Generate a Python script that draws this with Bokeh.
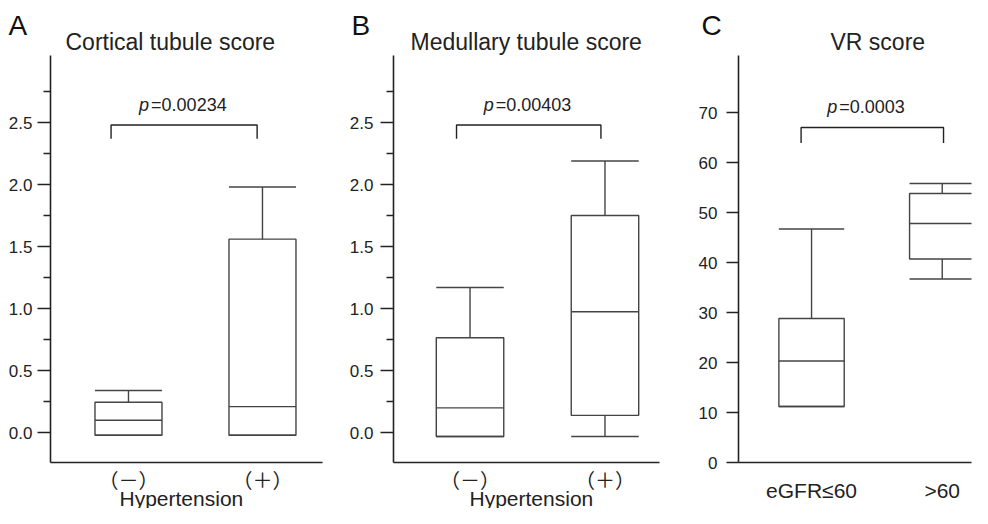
from bokeh.plotting import figure
from bokeh.layouts import row
from bokeh.models import ColumnDataSource, FixedTicker, Range1d, Label, Title
from bokeh.embed import file_html
from bokeh.resources import INLINE

# ---------------- data ----------------
hyp_groups = ["（－）", "（＋）"]
egfr_groups = ["eGFR≤60", ">60"]
group_pos = [1, 2]

# Cortical tubule score (A)
cort_lower = [-0.02, -0.02]
cort_q1 = [-0.02, -0.02]
cort_median = [0.10, 0.21]
cort_q3 = [0.245, 1.56]
cort_upper = [0.34, 1.98]
cort_p = "0.00234"
cort_bracket_x = [0.87, 1.96]
cort_bracket_y = [2.37, 2.48]

# Medullary tubule score (B)
med_lower = [-0.03, -0.03]
med_q1 = [-0.03, 0.14]
med_median = [0.20, 0.975]
med_q3 = [0.765, 1.75]
med_upper = [1.17, 2.19]
med_p = "0.00403"
med_bracket_x = [0.90, 1.97]
med_bracket_y = [2.37, 2.48]

# VR score (C)
vr_lower = [11.2, 36.7]
vr_q1 = [11.2, 40.7]
vr_median = [20.3, 47.8]
vr_q3 = [28.8, 53.8]
vr_upper = [46.7, 55.8]
vr_p = "0.0003"
vr_bracket_x = [0.92, 2.01]
vr_bracket_y = [63.9, 67.0]

score_ticks = [0.0, 0.5, 1.0, 1.5, 2.0, 2.5]
score_minor = [0.25, 0.75, 1.25, 1.75, 2.25, 2.75]
vr_ticks = [0, 10, 20, 30, 40, 50, 60, 70]

# ---------------- style ----------------
LC = "#444444"
AC = "#222222"
LW = 1.4
LATIN = "Liberation Sans"
CJK = "Noto Sans CJK JP"
H = 508


def make_fig(width, lb, rb, tb, bb, xr, yr):
    p = figure(width=width, height=H, x_range=Range1d(*xr), y_range=Range1d(*yr),
               output_backend="svg", toolbar_location=None, title=None,
               min_border_left=lb, min_border_right=rb,
               min_border_top=tb, min_border_bottom=bb)
    p.outline_line_color = None
    p.grid.visible = False
    p.background_fill_color = "white"
    p.border_fill_color = "white"
    for ax in (p.xaxis[0], p.yaxis[0]):
        ax.axis_line_color = AC
        ax.axis_line_width = 1.6
        ax.major_label_text_color = AC
    xa = p.xaxis[0]
    xa.ticker = FixedTicker(ticks=group_pos)
    xa.major_tick_line_color = None
    xa.minor_tick_line_color = None
    xa.major_tick_out = 0
    xa.major_tick_in = 0
    ya = p.yaxis[0]
    ya.major_tick_in = 0
    ya.minor_tick_in = 0
    ya.major_tick_line_color = AC
    ya.minor_tick_line_color = AC
    ya.major_tick_line_width = 1.4
    ya.minor_tick_line_width = 1.4
    ya.major_label_text_font = LATIN
    ya.major_label_text_font_size = "17px"
    return p


def draw_boxes(p, lower, q1, med, q3, upper, w=0.5):
    src = ColumnDataSource(dict(
        x=group_pos,
        left=[g - w / 2 for g in group_pos],
        right=[g + w / 2 for g in group_pos],
        lower=lower, q1=q1, med=med, q3=q3, upper=upper))
    kw = dict(source=src, line_color=LC, line_width=LW)
    p.segment(x0="x", x1="x", y0="q3", y1="upper", **kw)
    p.segment(x0="x", x1="x", y0="lower", y1="q1", **kw)
    p.segment(x0="left", x1="right", y0="upper", y1="upper", **kw)
    p.segment(x0="left", x1="right", y0="lower", y1="lower", **kw)
    p.quad(left="left", right="right", bottom="q1", top="q3", fill_color=None, **kw)
    p.segment(x0="left", x1="right", y0="med", y1="med", **kw)


def draw_bracket(p, bx, by, pval, ptext_y):
    p.line(x=[bx[0], bx[0], bx[1], bx[1]], y=[by[0], by[1], by[1], by[0]],
           line_color=AC, line_width=LW)
    xc = (bx[0] + bx[1]) / 2
    p.add_layout(Label(x=xc, y=ptext_y, x_offset=-35, text="p", text_align="right",
                       text_baseline="middle", text_font=LATIN, text_font_style="italic",
                       text_font_size="18px", text_color=AC))
    p.add_layout(Label(x=xc, y=ptext_y, x_offset=-33, text="=" + pval, text_align="left",
                       text_baseline="middle", text_font=LATIN,
                       text_font_size="18px", text_color=AC))


def add_titles(p, title, t_off, t_standoff, letter, l_off, l_standoff):
    p.add_layout(Title(text=title, align="left", offset=t_off, standoff=t_standoff,
                       text_font=LATIN, text_font_size="23px", text_font_style="normal",
                       text_color=AC), "above")
    p.add_layout(Title(text=letter, align="left", offset=l_off, standoff=l_standoff,
                       text_font=LATIN, text_font_size="28px", text_font_style="normal",
                       text_color="#111111"), "above")


def add_xtitle(p, text, off, standoff):
    p.add_layout(Title(text=text, align="left", offset=off, standoff=standoff,
                       vertical_align="top",
                       text_font=LATIN, text_font_size="21px", text_font_style="normal",
                       text_color=AC), "below")


# ---------------- panel A ----------------
pa = make_fig(330, 50, 8, 55, 46, (0.418, 2.448), (-0.24, 3.04))
pa.yaxis[0].ticker = FixedTicker(ticks=score_ticks, minor_ticks=score_minor)
pa.yaxis[0].major_tick_out = 13
pa.yaxis[0].minor_tick_out = 7
pa.yaxis[0].major_label_standoff = 5
pa.yaxis[0].major_label_overrides = {t: f"{t:.1f}" for t in score_ticks}
pa.xaxis[0].major_label_overrides = {g: s for g, s in zip(group_pos, hyp_groups)}
pa.xaxis[0].major_label_text_font = CJK
pa.xaxis[0].major_label_text_font_size = "20px"
pa.xaxis[0].major_label_standoff = 2
draw_boxes(pa, cort_lower, cort_q1, cort_median, cort_q3, cort_upper)
draw_bracket(pa, cort_bracket_x, cort_bracket_y, cort_p, 2.64)
add_titles(pa, "Cortical tubule score", 15, 2, "A", -42, -30)
add_xtitle(pa, "Hypertension", 69, -20)

# ---------------- panel B ----------------
pb = make_fig(330, 63, 1, 55, 46, (0.433, 2.404), (-0.24, 3.04))
pb.yaxis[0].ticker = FixedTicker(ticks=score_ticks, minor_ticks=score_minor)
pb.yaxis[0].major_tick_out = 13
pb.yaxis[0].minor_tick_out = 7
pb.yaxis[0].major_label_standoff = 7
pb.yaxis[0].major_label_overrides = {t: f"{t:.1f}" for t in score_ticks}
pb.xaxis[0].major_label_overrides = {g: s for g, s in zip(group_pos, hyp_groups)}
pb.xaxis[0].major_label_text_font = CJK
pb.xaxis[0].major_label_text_font_size = "20px"
pb.xaxis[0].major_label_standoff = 2
draw_boxes(pb, med_lower, med_q1, med_median, med_q3, med_upper)
draw_bracket(pb, med_bracket_x, med_bracket_y, med_p, 2.64)
add_titles(pb, "Medullary tubule score", 17, 2, "B", -42, -30)
add_xtitle(pb, "Hypertension", 76, -20)

# ---------------- panel C ----------------
pc = make_fig(312, 78, 1, 55, 46, (0.441, 2.224), (0, 81.4))
pc.yaxis[0].ticker = FixedTicker(ticks=vr_ticks)
pc.yaxis[0].major_tick_out = 12
pc.yaxis[0].minor_tick_line_color = None
pc.yaxis[0].major_label_standoff = 9
pc.xaxis[0].major_label_overrides = {g: s for g, s in zip(group_pos, egfr_groups)}
pc.xaxis[0].major_label_text_font = LATIN
pc.xaxis[0].major_label_text_font_size = "21px"
pc.xaxis[0].major_label_standoff = 16
draw_boxes(pc, vr_lower, vr_q1, vr_median, vr_q3, vr_upper)
draw_bracket(pc, vr_bracket_x, vr_bracket_y, vr_p, 71.2)
add_titles(pc, "VR score", 92, 2, "C", -37, -30)

layout = row(pa, pb, pc)
open("out.html", "w").write(file_html(layout, INLINE))
